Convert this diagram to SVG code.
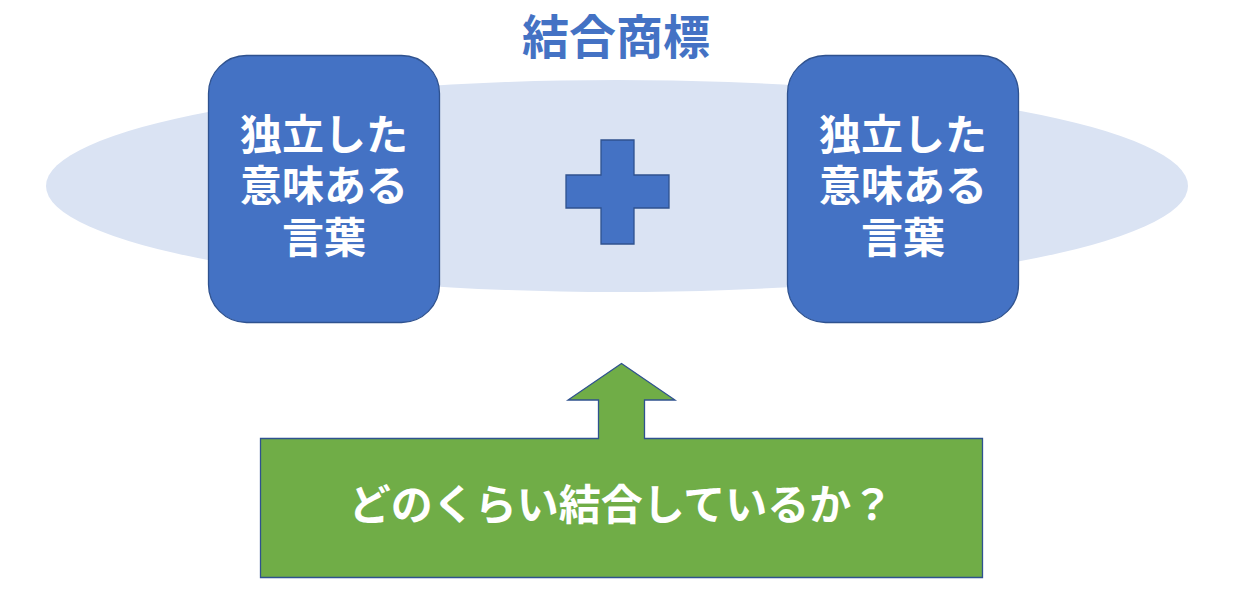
<svg xmlns="http://www.w3.org/2000/svg" width="1248" height="592" viewBox="0 0 1248 592">
<style>
.t{font-family:"Noto Sans CJK JP","Noto Sans CJK SC",sans-serif;font-weight:700;fill:#ffffff;text-anchor:middle}
.box{fill:#4472C4;stroke:#2F528F;stroke-width:1.3}
</style>
<rect width="1248" height="592" fill="#ffffff"/>
<g id="ellipse"><ellipse cx="617" cy="186" rx="571" ry="106" fill="#DAE3F3"/></g>
<g id="title"><text x="616" y="54" font-size="47" class="t" style="fill:#4472C4">結合商標</text></g>
<g id="left-word">
<rect class="box" x="208.5" y="55.5" width="231" height="267" rx="38"/>
<text class="t" font-size="42"><tspan x="324" y="150">独立した</tspan><tspan x="324" y="201">意味ある</tspan><tspan x="324" y="253">言葉</tspan></text>
</g>
<g id="right-word">
<rect class="box" x="787.5" y="55.5" width="231" height="267" rx="38"/>
<text class="t" font-size="42"><tspan x="903" y="150">独立した</tspan><tspan x="903" y="201">意味ある</tspan><tspan x="903" y="253">言葉</tspan></text>
</g>
<g id="plus"><path class="box" d="M601,140 H634 V175 H669 V208 H634 V244 H601 V208 H566 V175 H601 Z"/></g>
<g id="question">
<path d="M260.5,438.5 H598.5 V400 H568 L621.5,363.5 L675,400 H644.5 V438.5 H982.5 V577.5 H260.5 Z" fill="#70AD47" stroke="#2F528F" stroke-width="1.3"/>
<text class="t" font-size="42" x="621" y="520">どのくらい結合しているか？</text>
</g>
<g id="connectors"></g>
</svg>
